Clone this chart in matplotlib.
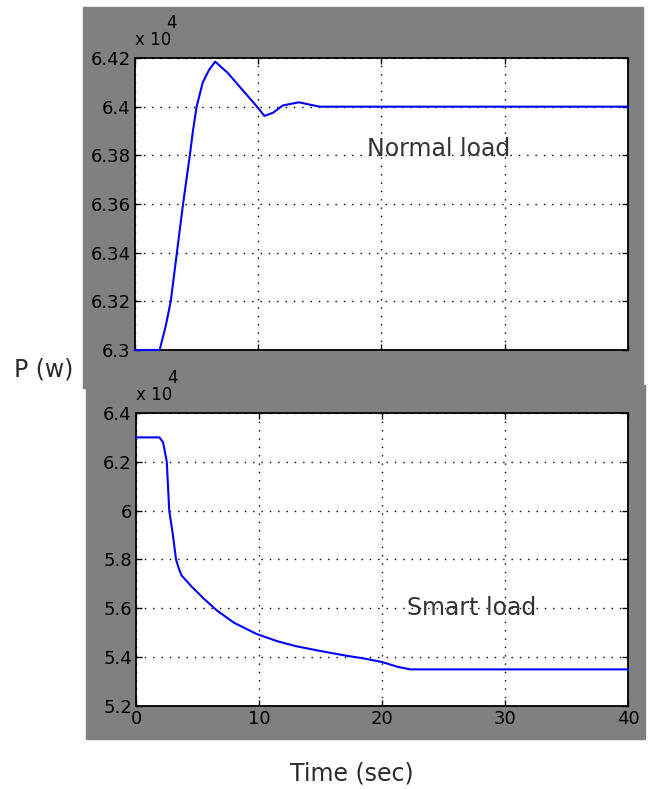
import matplotlib.pyplot as plt
from matplotlib.patches import Rectangle

# values in units of 1e4 W
t_normal = [0, 2.0, 2.5, 2.9, 3.4, 3.9, 4.45, 4.7, 5.0, 5.5, 6.0, 6.5, 7.5, 8.7, 9.9, 10.5, 11.2, 12.0, 13.3, 14.2, 15.0, 40]
p_normal = [6.30, 6.30, 6.31, 6.32, 6.34, 6.36, 6.38, 6.39, 6.40, 6.41, 6.415, 6.4185, 6.414, 6.407, 6.400, 6.3962, 6.3975, 6.4005, 6.4018, 6.4008, 6.40, 6.40]

t_smart = [0, 1.9, 2.2, 2.5, 2.7, 3.0, 3.25, 3.5, 3.7, 4.5, 5.5, 6.6, 8.0, 9.8, 11.5, 13.0, 15.0, 17.2, 18.5, 20.0, 21.3, 22.3, 40]
p_smart = [6.30, 6.30, 6.28, 6.20, 6.00, 5.90, 5.80, 5.76, 5.735, 5.69, 5.64, 5.59, 5.54, 5.495, 5.465, 5.445, 5.425, 5.405, 5.395, 5.38, 5.36, 5.35, 5.35]

x_ticks = [0, 10, 20, 30, 40]
top_yticks = [6.30, 6.32, 6.34, 6.36, 6.38, 6.40, 6.42]
top_ylabels = ['6.3', '6.32', '6.34', '6.36', '6.38', '6.4', '6.42']
bot_yticks = [5.2, 5.4, 5.6, 5.8, 6.0, 6.2, 6.4]
bot_ylabels = ['5.2', '5.4', '5.6', '5.8', '6', '6.2', '6.4']

grey = '#808080'
fig = plt.figure(figsize=(6.49, 7.89), dpi=100)
fig.patches.append(Rectangle((0.1279, 0.5082), 0.8629, 0.4829, transform=fig.transFigure, color=grey, zorder=-10))
fig.patches.append(Rectangle((0.1325, 0.0634), 0.8613, 0.4486, transform=fig.transFigure, color=grey, zorder=-10))

tick_font = dict(fontsize=13, family='DejaVu Sans')

def style(ax, yticks, ylabels, show_x):
    ax.set_facecolor('white')
    ax.set_zorder(5)
    ax.set_xlim(0, 40)
    ax.set_xticks(x_ticks)
    if show_x:
        ax.set_xticklabels([str(v) for v in x_ticks], **tick_font)
    else:
        ax.set_xticklabels([])
    ax.set_yticks(yticks)
    ax.set_yticklabels(ylabels, **tick_font)
    ax.tick_params(direction='in', length=4, width=1, top=True, right=True, colors='black', pad=3)
    ax.grid(True, color='black', linestyle=(0, (1, 5)), linewidth=1)
    for s in ax.spines.values():
        s.set_linewidth(1.3)
        s.set_color('black')

ax1 = fig.add_axes([0.208, 0.5564, 0.7596, 0.3701])
ax1.plot(t_normal, p_normal, color='#0000ff', linewidth=1.5, clip_on=False, zorder=5)
ax1.set_ylim(6.30, 6.42)
style(ax1, top_yticks, top_ylabels, False)
ax1.text(18.8, 6.3826, 'Normal load', fontsize=17, color='#333333', va='center', family='DejaVu Sans')
ax1.text(0, 1.03, 'x 10', transform=ax1.transAxes, fontsize=12, va='bottom', ha='left')
ax1.text(0.063, 1.09, '4', transform=ax1.transAxes, fontsize=12, va='bottom', ha='left')

ax2 = fig.add_axes([0.2096, 0.1052, 0.7581, 0.3714])
ax2.plot(t_smart, p_smart, color='#0000ff', linewidth=1.5, clip_on=False, zorder=5)
ax2.set_ylim(5.2, 6.4)
style(ax2, bot_yticks, bot_ylabels, True)
ax2.text(22.0, 5.6, 'Smart load', fontsize=17, color='#333333', va='center', family='DejaVu Sans')
ax2.text(0, 1.03, 'x 10', transform=ax2.transAxes, fontsize=12, va='bottom', ha='left')
ax2.text(0.063, 1.09, '4', transform=ax2.transAxes, fontsize=12, va='bottom', ha='left')

fig.text(0.067, 1 - 370 / 789, 'P (w)', fontsize=17, color='#2b2b2b', ha='center', va='center')
fig.text(0.542, 1 - 773 / 789, 'Time (sec)', fontsize=17, color='#2b2b2b', ha='center', va='center')

fig.savefig('out.png', dpi=100)
